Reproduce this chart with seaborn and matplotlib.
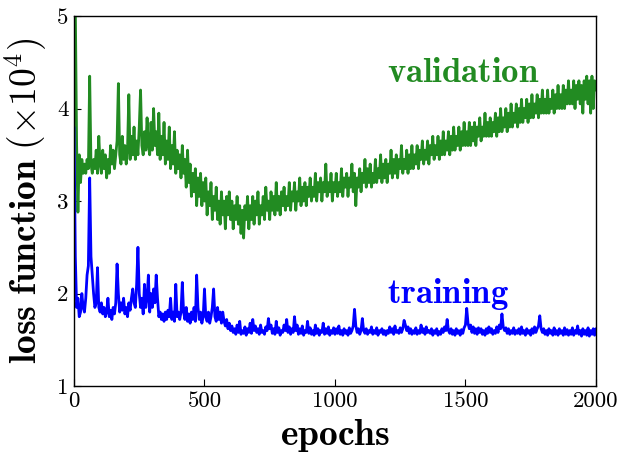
import numpy as np
import pandas as pd
import matplotlib
matplotlib.use("Agg")
import matplotlib.pyplot as plt
import seaborn as sns

epochs = list(range(0, 2001, 5))

validation = [
    5.3, 5.1, 3.6, 2.88, 3.5, 3.2, 3.45, 3.3, 3.4, 3.3, 3.45, 3.35, 4.35, 3.4, 3.3, 3.45, 3.35, 3.55, 3.3, 3.7, 3.4,
    3.3, 3.55, 3.35, 3.5, 3.25, 3.45, 3.3, 3.6, 3.4, 3.55, 3.35, 3.5, 3.65, 4.27, 3.5, 3.4, 3.7, 3.45, 3.6, 3.4,
    3.55, 4.15, 3.45, 3.7, 3.5, 3.8, 3.45, 3.65, 3.5, 3.8, 4.2, 3.6, 3.5, 3.75, 3.55, 3.9, 3.6, 3.5, 3.85, 3.55,
    4.0, 3.6, 3.75, 3.5, 3.95, 3.45, 3.7, 3.5, 3.85, 3.4, 3.65, 3.45, 3.8, 3.35, 3.6, 3.4, 3.75, 3.3, 3.55, 3.35,
    3.5, 3.25, 3.6, 3.3, 3.45, 3.15, 3.55, 3.2, 3.4, 3.05, 3.3, 3.1, 3.35, 2.95, 3.25, 3.05, 3.3, 2.95, 3.2, 3.0,
    3.25, 2.85, 3.1, 2.95, 3.2, 2.8, 3.05, 2.9, 3.15, 2.8, 3.0, 2.75, 3.1, 2.85, 3.0, 2.7, 3.05, 2.85, 3.1, 2.8,
    3.0, 2.7, 2.95, 2.8, 3.05, 2.75, 2.95, 2.65, 2.9, 2.6, 2.95, 2.8, 3.05, 2.7, 2.95, 2.8, 3.05, 2.75, 3.0, 2.85,
    3.1, 2.75, 2.95, 2.85, 3.05, 2.8, 3.15, 2.9, 3.0, 2.8, 3.1, 2.9, 3.05, 2.85, 3.2, 2.9, 3.05, 2.85, 3.1, 2.95,
    3.15, 2.9, 3.05, 2.95, 3.2, 2.9, 3.1, 3.0, 3.2, 2.9, 3.1, 3.0, 3.25, 2.95, 3.15, 3.0, 3.2, 2.95, 3.15, 3.05,
    3.25, 3.0, 3.15, 3.05, 3.3, 3.0, 3.2, 3.1, 3.25, 3.0, 3.2, 3.1, 3.4, 3.05, 3.2, 3.1, 3.3, 3.0, 3.2, 3.1,
    3.3, 3.05, 3.2, 3.1, 3.35, 3.05, 3.25, 3.15, 3.3, 3.05, 3.25, 3.15, 3.4, 3.1, 3.3, 2.95, 3.25, 3.15, 3.35, 3.1,
    3.3, 3.2, 3.45, 3.15, 3.35, 3.2, 3.4, 3.15, 3.3, 3.2, 3.45, 3.2, 3.35, 3.25, 3.5, 3.2, 3.4, 3.25, 3.45, 3.2,
    3.4, 3.3, 3.55, 3.25, 3.45, 3.3, 3.5, 3.25, 3.45, 3.35, 3.6, 3.3, 3.45, 3.35, 3.55, 3.3, 3.5, 3.35, 3.6, 3.35,
    3.5, 3.4, 3.6, 3.35, 3.55, 3.45, 3.65, 3.4, 3.55, 3.45, 3.65, 3.4, 3.6, 3.5, 3.7, 3.45, 3.6, 3.5, 3.7, 3.45,
    3.65, 3.5, 3.75, 3.5, 3.65, 3.55, 3.75, 3.5, 3.7, 3.55, 3.8, 3.55, 3.7, 3.6, 3.8, 3.55, 3.75, 3.6, 3.85, 3.6,
    3.75, 3.6, 3.85, 3.6, 3.8, 3.65, 3.85, 3.6, 3.8, 3.7, 3.9, 3.65, 3.8, 3.7, 3.95, 3.7, 3.85, 3.7, 3.9, 3.7,
    3.85, 3.75, 3.95, 3.7, 3.9, 3.75, 4.0, 3.75, 3.9, 3.8, 4.0, 3.75, 3.95, 3.8, 4.05, 3.8, 3.95, 3.85, 4.05, 3.8,
    4.0, 3.85, 4.1, 3.85, 4.0, 3.9, 4.1, 3.85, 4.05, 3.9, 4.15, 3.9, 4.05, 3.95, 4.15, 3.9, 4.1, 3.95, 4.2, 3.95,
    4.1, 3.95, 4.2, 3.95, 4.1, 4.0, 4.2, 3.95, 4.15, 4.0, 4.25, 4.0, 4.15, 4.0, 4.25, 4.0, 4.2, 4.05, 4.3, 4.05,
    4.2, 4.05, 4.3, 4.0, 4.25, 4.1, 4.3, 4.05, 4.25, 3.95, 4.3, 4.1, 4.35, 4.05, 4.3, 3.95, 4.35, 4.0, 4.3, 4.2,
]

training = [
    3.8, 2.4, 1.85, 1.95, 1.75, 1.8, 2.0, 1.85, 1.8, 1.95, 2.2, 2.3, 3.25, 2.4, 2.2, 2.0, 1.85, 1.9, 2.28, 1.85, 1.8,
    1.9, 1.78, 1.85, 1.75, 1.8, 1.95, 1.75, 1.82, 1.72, 1.85, 1.78, 1.9, 2.32, 2.0, 1.8, 1.9, 1.82, 1.95, 1.78, 1.85,
    1.75, 1.9, 1.82, 1.95, 2.05, 1.9, 1.85, 2.1, 2.5, 2.0, 1.85, 1.95, 1.78, 2.1, 1.85, 1.95, 2.2, 1.8, 2.0, 1.85,
    2.05, 1.9, 2.2, 1.95, 1.75, 1.8, 1.72, 1.78, 1.7, 1.8, 1.72, 1.82, 1.75, 1.95, 1.72, 1.8, 1.7, 2.1, 1.75, 1.8,
    1.72, 1.8, 2.12, 1.8, 1.72, 1.85, 1.7, 1.78, 1.68, 1.8, 1.72, 1.85, 1.7, 2.2, 1.85, 1.72, 1.8, 1.68, 1.75, 2.05,
    1.75, 1.7, 1.8, 1.68, 1.75, 1.85, 2.05, 1.75, 1.7, 1.85, 1.72, 1.8, 1.68, 1.8, 1.7, 1.65, 1.72, 1.62, 1.68, 1.6,
    1.65, 1.58, 1.62, 1.56, 1.66, 1.58, 1.7, 1.56, 1.6, 1.57, 1.64, 1.55, 1.62, 1.58, 1.68, 1.57, 1.72, 1.6, 1.65, 1.58,
    1.62, 1.56, 1.66, 1.58, 1.6, 1.56, 1.64, 1.6, 1.73, 1.62, 1.66, 1.57, 1.62, 1.56, 1.7, 1.58, 1.63, 1.55, 1.6, 1.58,
    1.66, 1.6, 1.72, 1.58, 1.64, 1.56, 1.62, 1.58, 1.75, 1.6, 1.66, 1.56, 1.62, 1.57, 1.65, 1.55, 1.6, 1.58, 1.7, 1.57,
    1.63, 1.56, 1.6, 1.55, 1.66, 1.57, 1.62, 1.55, 1.6, 1.58, 1.68, 1.56, 1.62, 1.57, 1.64, 1.55, 1.6, 1.57, 1.63, 1.56,
    1.62, 1.57, 1.65, 1.56, 1.6, 1.55, 1.62, 1.57, 1.6, 1.55, 1.63, 1.57, 1.6, 1.65, 1.83, 1.65, 1.58, 1.62, 1.56, 1.6,
    1.73, 1.6, 1.57, 1.62, 1.56, 1.6, 1.58, 1.64, 1.56, 1.6, 1.57, 1.63, 1.55, 1.6, 1.58, 1.62, 1.56, 1.6, 1.55, 1.6,
    1.57, 1.64, 1.58, 1.62, 1.56, 1.65, 1.58, 1.6, 1.57, 1.63, 1.58, 1.62, 1.71, 1.66, 1.6, 1.64, 1.57, 1.62, 1.56, 1.6,
    1.57, 1.63, 1.56, 1.6, 1.57, 1.66, 1.58, 1.62, 1.56, 1.64, 1.58, 1.6, 1.57, 1.62, 1.55, 1.6, 1.57, 1.62, 1.55, 1.59,
    1.56, 1.62, 1.58, 1.64, 1.6, 1.72, 1.6, 1.57, 1.62, 1.56, 1.6, 1.55, 1.62, 1.57, 1.6, 1.55, 1.61, 1.57, 1.63, 1.66,
    1.84, 1.68, 1.62, 1.66, 1.58, 1.64, 1.57, 1.62, 1.56, 1.63, 1.58, 1.62, 1.56, 1.6, 1.55, 1.62, 1.57, 1.64, 1.58, 1.62,
    1.56, 1.6, 1.57, 1.64, 1.58, 1.66, 1.62, 1.78, 1.64, 1.6, 1.63, 1.57, 1.62, 1.56, 1.6, 1.57, 1.63, 1.56, 1.6, 1.57,
    1.62, 1.56, 1.64, 1.57, 1.6, 1.55, 1.62, 1.57, 1.6, 1.55, 1.62, 1.57, 1.64, 1.58, 1.62, 1.65, 1.76, 1.62, 1.58, 1.62,
    1.56, 1.6, 1.55, 1.62, 1.57, 1.6, 1.55, 1.63, 1.56, 1.6, 1.55, 1.62, 1.57, 1.6, 1.55, 1.63, 1.56, 1.61, 1.55, 1.6,
    1.56, 1.63, 1.55, 1.6, 1.57, 1.65, 1.56, 1.6, 1.54, 1.62, 1.56, 1.6, 1.55, 1.63, 1.54, 1.6, 1.56, 1.62, 1.55, 1.62,
]

x_ticks = [0, 500, 1000, 1500, 2000]
x_tick_labels = ["0", "500", "1000", "1500", "2000"]
y_ticks = [1, 2, 3, 4, 5]
y_tick_labels = ["1", "2", "3", "4", "5"]

sns.set_style("ticks")
plt.rcParams["mathtext.fontset"] = "cm"
plt.rcParams["font.family"] = ["cmr10", "DejaVu Serif"]
plt.rcParams["axes.formatter.use_mathtext"] = True
plt.rcParams["text.color"] = "black"
plt.rcParams["axes.labelcolor"] = "black"
plt.rcParams["xtick.color"] = "black"
plt.rcParams["ytick.color"] = "black"

df = pd.DataFrame({"epoch": epochs, "validation": validation, "training": training})

fig = plt.figure(figsize=(6.22, 4.58), dpi=100)
ax = fig.add_axes([0.119, 0.157, 0.839, 0.808])

sns.lineplot(data=df, x="epoch", y="validation", ax=ax, color="#228B22", linewidth=2.0)
sns.lineplot(data=df, x="epoch", y="training", ax=ax, color="#0000FF", linewidth=2.0)

ax.set_xlim(0, 2000)
ax.set_ylim(1, 5)
ax.set_xticks(x_ticks)
ax.set_xticklabels(x_tick_labels, fontsize=16.5, fontfamily="cmr10", color="black")
ax.set_yticks(y_ticks)
ax.set_yticklabels(y_tick_labels, fontsize=16.5, fontfamily="cmr10", color="black")
ax.tick_params(direction="in", length=5, width=0.8, top=False, right=False, pad=4)

for s in ax.spines.values():
    s.set_visible(True)
    s.set_color("black")
    s.set_linewidth(1.0)

ax.set_xlabel(r"$\mathbf{epochs}$", fontsize=27, labelpad=4, color="black")
ax.set_ylabel(r"$\mathbf{loss\ function\ (\times 10^4)}$", fontsize=27, labelpad=6, color="black")

ax.text(1200, 4.38, r"$\mathbf{validation}$", color="#228B22", fontsize=25, va="center", ha="left")
ax.text(1200, 2.0, r"$\mathbf{training}$", color="#0000FF", fontsize=25, va="center", ha="left")

fig.savefig("out.png", dpi=100)
